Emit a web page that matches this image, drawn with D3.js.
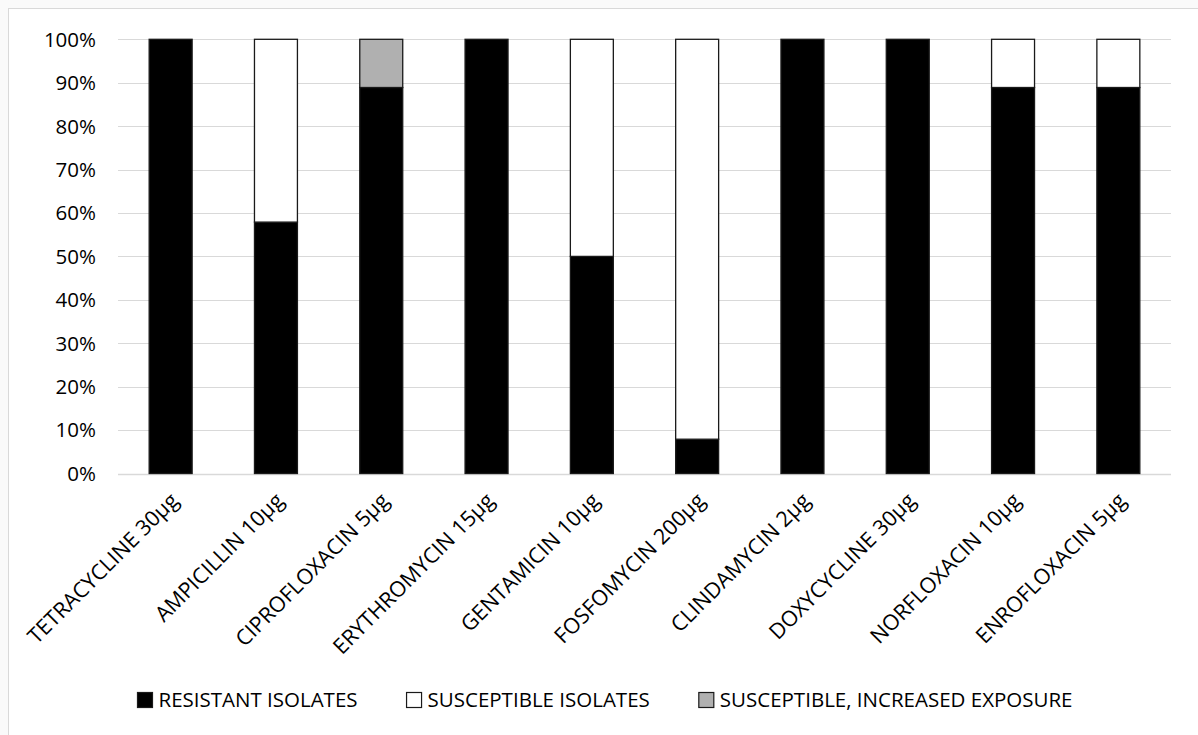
<!DOCTYPE html>
<html>
<head>
<meta charset="utf-8">
<script src="https://cdn.jsdelivr.net/npm/d3@7"></script>
<style>
  html, body { margin: 0; padding: 0; background: #fafafa; }
  svg { display: block; }
  text { font-family: "Open Sans", sans-serif; fill: #000; }
</style>
</head>
<body>
<svg id="chart" width="1198" height="735"></svg>
<script>
const categories = ["TETRACYCLINE 30µg", "AMPICILLIN 10µg", "CIPROFLOXACIN 5µg", "ERYTHROMYCIN 15µg",
  "GENTAMICIN 10µg", "FOSFOMYCIN 200µg", "CLINDAMYCIN 2µg", "DOXYCYCLINE 30µg", "NORFLOXACIN 10µg", "ENROFLOXACIN 5µg"];
const resistant = [100, 57.9, 88.9, 100, 50, 7.9, 100, 100, 88.9, 88.9];
const susceptible = [0, 42.1, 0, 0, 50, 92.1, 0, 0, 11.1, 11.1];
const increased = [0, 0, 11.1, 0, 0, 0, 0, 0, 0, 0];
const seriesNames = ["RESISTANT ISOLATES", "SUSCEPTIBLE ISOLATES", "SUSCEPTIBLE, INCREASED EXPOSURE"];
const seriesColors = ["#000000", "#ffffff", "#b0b0b0"];
const yTicks = [0, 10, 20, 30, 40, 50, 60, 70, 80, 90, 100];

const svg = d3.select("#chart");
const fs = 20.5;

// chart area background + border
svg.append("rect").attr("x", 8.5).attr("y", 8.5).attr("width", 1300).attr("height", 800)
  .attr("fill", "#fff").attr("stroke", "#d9d9d9").attr("stroke-width", 1);

const x = d3.scaleBand().domain(categories).range([118, 1171]).paddingInner(0.592).paddingOuter(0.296);
const y = d3.scaleLinear().domain([0, 100]).range([473.5, 39.3]);

// gridlines
svg.append("g").selectAll("line").data(yTicks).join("line")
  .attr("x1", 118).attr("x2", 1171)
  .attr("y1", d => Math.round(y(d)) + 0.5).attr("y2", d => Math.round(y(d)) + 0.5)
  .attr("stroke", "#d9d9d9").attr("stroke-width", d => d === 0 ? 1.5 : 1.2);

// y labels
svg.append("g").selectAll("text").data(yTicks).join("text")
  .attr("x", 96).attr("y", d => y(d)).attr("dy", "0.36em")
  .attr("text-anchor", "end").attr("font-size", fs)
  .text(d => d + "%");

// stacked data
const rows = categories.map((c, i) => ({cat: c, r: resistant[i], s: susceptible[i], e: increased[i]}));
const stack = d3.stack().keys(["r", "s", "e"])(rows);

const layers = svg.append("g").selectAll("g").data(stack).join("g")
  .attr("fill", (d, i) => seriesColors[i]);
layers.selectAll("rect").data(d => d.filter(p => p[1] - p[0] > 0)).join("rect")
  .attr("x", d => x(d.data.cat))
  .attr("width", x.bandwidth())
  .attr("y", d => y(d[1]))
  .attr("height", d => y(d[0]) - y(d[1]))
  .attr("stroke", "#1a1a1a").attr("stroke-width", 1.3);

// x labels
svg.append("g").selectAll("text").data(categories).join("text")
  .attr("transform", d => `translate(${x(d) + x.bandwidth() / 2 + 9},${502}) rotate(-45)`)
  .attr("text-anchor", "end").attr("font-size", 21.5)
  .text(d => d);

// legend
const legend = svg.append("g");
const items = legend.selectAll("g").data(seriesNames).join("g");
items.append("rect").attr("y", -0.5).attr("width", 15).attr("height", 15)
  .attr("fill", (d, i) => seriesColors[i]).attr("stroke", "#1a1a1a").attr("stroke-width", 1.2);
items.append("text").attr("x", 21).attr("y", 7).attr("dy", "0.36em")
  .attr("font-size", fs).text(d => d);
let widths = [];
items.each(function() { widths.push(this.getBBox().width); });
const gap = 49;
const total = d3.sum(widths) + gap * (widths.length - 1);
let cx = 605 - total / 2;
items.each(function(d, i) {
  d3.select(this).attr("transform", `translate(${cx},${693})`);
  cx += widths[i] + gap;
});
</script>
</body>
</html>
